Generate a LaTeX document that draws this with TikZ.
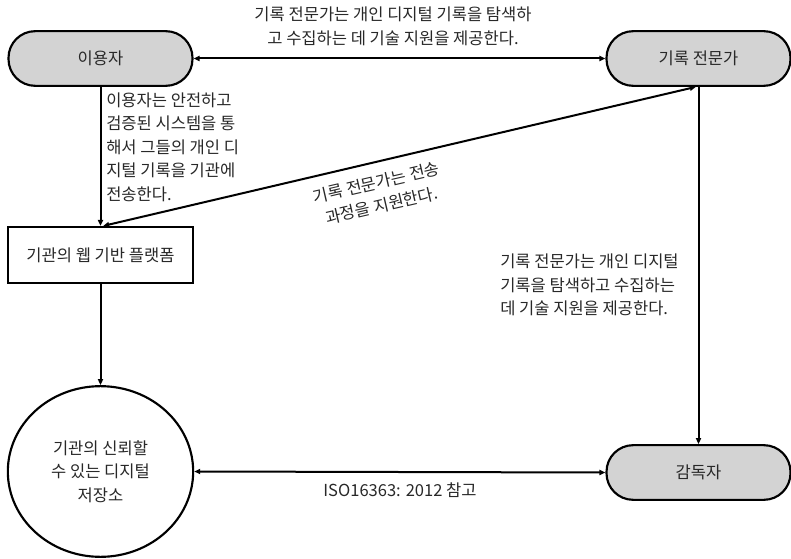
\documentclass[tikz,border=0pt]{standalone}
\usepackage{fontspec}
\setmainfont{Noto Sans CJK KR}
\usetikzlibrary{arrows.meta,shapes.geometric}
\definecolor{boxgray}{RGB}{211,211,211}
\definecolor{txt}{RGB}{40,40,40}
\tikzset{
  stadium/.style={draw=black, line width=1.6pt, fill=boxgray, rounded corners=20pt,
    minimum width=138pt, minimum height=41pt, inner sep=0pt, text=txt, font=\fontsize{12.4}{16}\selectfont},
  platbox/.style={draw=black, line width=1.6pt, fill=white, minimum width=139pt, minimum height=42pt,
    inner sep=0pt, text=txt, font=\fontsize{12.4}{16}\selectfont},
  repo/.style={draw=black, line width=1.6pt, ellipse, minimum width=139pt, minimum height=128pt,
    inner sep=0pt, align=center, text=txt, font=\fontsize{12.4}{17.8}\selectfont},
  conn/.style={line width=1.5pt, -{Triangle[length=4.5pt,width=3.8pt]}},
  dconn/.style={line width=1.5pt, {Triangle[length=4.5pt,width=3.8pt]}-{Triangle[length=4.5pt,width=3.8pt]}},
  lbl/.style={text=txt, font=\fontsize{12.4}{17.6}\selectfont, inner sep=0pt}
}
\begin{document}
\begin{tikzpicture}[x=0.75pt,y=-0.75pt]
\useasboundingbox (0,0) rectangle (791,559);
\node[stadium] (user) at (100.5,58.5) {이용자};
\node[stadium] (expert) at (698.5,58.5) {기록 전문가};
\node[platbox] (plat) at (100.5,255) {기관의 웹 기반 플랫폼};
\node[repo] (store) at (100.5,471.5) {기관의 신뢰할\\수 있는 디지털\\저장소};
\node[stadium] (super) at (698.5,472.5) {감독자};

\draw[dconn] (user.east) -- (expert.west);
\draw[conn] (user.south) -- (plat.north);
\draw[dconn] ([xshift=2pt]plat.north) -- ([xshift=-2pt]expert.south);
\draw[conn] (plat.south) -- (store.north);
\draw[conn] (expert.south) -- (super.north);
\draw[dconn] (store.east) -- (super.west);

\node[lbl, align=center] (l1) at (393,26.5) {기록 전문가는 개인 디지털 기록을 탐색하\\고 수집하는 데 기술 지원을 제공한다.};
\node[lbl, align=left, anchor=west] (l2) at (106,147) {이용자는 안전하고\\검증된 시스템을 통\\해서 그들의 개인 디\\지털 기록을 기관에\\전송한다.};
\node[lbl, align=center, rotate=13] (l3) at (379,194) {기록 전문가는 전송\\과정을 지원한다.};
\node[lbl, align=left, anchor=west] (l4) at (500,285) {기록 전문가는 개인 디지털\\기록을 탐색하고 수집하는\\데 기술 지원을 제공한다.};
\node[lbl] (l5) at (400,490) {ISO16363: 2012 참고};
\end{tikzpicture}
\end{document}
